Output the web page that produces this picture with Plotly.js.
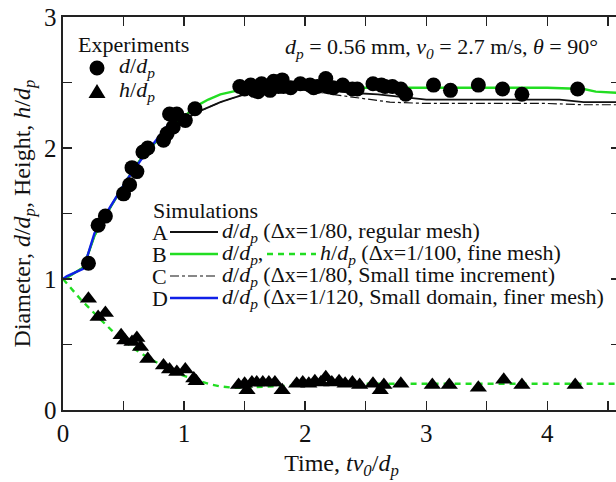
<!DOCTYPE html>
<html>
<head>
<meta charset="utf-8">
<script src="https://cdn.plot.ly/plotly-3.0.1.min.js"></script>
<style>
html,body{margin:0;padding:0;overflow:hidden;background:#fff;width:616px;height:482px;}
#chart{width:640px;height:482px;}
</style>
</head>
<body>
<div id="chart"></div>
<script>
// ---------- data ----------
// Experiments: diameter d/dp
const expDT = [0.21,0.29,0.35,0.50,0.55,0.57,0.61,0.66,0.70,0.83,0.86,0.91,0.88,0.94,1.01,1.09,
  1.46,1.50,1.55,1.58,1.61,1.64,1.68,1.71,1.74,1.78,1.81,1.82,1.88,1.96,2.04,2.07,2.10,2.17,2.18,2.23,
  2.31,2.39,2.43,2.56,2.63,2.66,2.72,2.79,2.83,3.06,3.20,3.43,3.63,3.79,4.25];
const expD = [1.12,1.41,1.48,1.65,1.72,1.85,1.82,1.97,2.00,2.06,2.11,2.16,2.26,2.26,2.21,2.30,
  2.47,2.45,2.48,2.44,2.43,2.49,2.46,2.44,2.51,2.47,2.52,2.47,2.46,2.49,2.48,2.46,2.47,2.53,2.47,2.46,
  2.48,2.45,2.45,2.49,2.48,2.47,2.47,2.45,2.41,2.48,2.44,2.48,2.45,2.41,2.45];
// Experiments: height h/dp
const expHT = [0.21,0.29,0.35,0.48,0.51,0.57,0.61,0.64,0.70,0.83,0.88,0.94,1.01,1.08,1.10,
  1.45,1.50,1.52,1.56,1.60,1.65,1.70,1.75,1.81,1.93,1.98,2.03,2.08,2.13,2.17,2.22,2.28,2.33,2.39,2.45,
  2.56,2.62,2.65,2.79,3.05,3.19,3.43,3.64,3.79,4.23];
const expH = [0.85,0.71,0.74,0.57,0.53,0.52,0.55,0.48,0.39,0.34,0.31,0.29,0.31,0.24,0.22,
  0.19,0.20,0.15,0.21,0.21,0.21,0.21,0.21,0.15,0.20,0.21,0.20,0.22,0.21,0.25,0.21,0.22,0.20,0.21,0.19,
  0.20,0.15,0.19,0.20,0.19,0.19,0.17,0.23,0.19,0.19];

// Simulation A: d/dp, dx=1/80 regular mesh
const simAT = [0,0.05,0.17,0.26,0.40,0.53,0.66,0.80,0.90,1.00,1.10,1.20,1.30,1.40,1.50,1.60,1.70,1.80,1.90,2.00,2.20,2.40,2.60,2.80,3.00,3.30,3.60,3.90,4.10,4.30,4.60];
const simA  = [1.00,1.02,1.09,1.33,1.56,1.76,1.94,2.08,2.15,2.21,2.27,2.31,2.35,2.38,2.41,2.43,2.44,2.45,2.45,2.45,2.44,2.42,2.41,2.39,2.37,2.37,2.37,2.37,2.37,2.35,2.35];
// Simulation B: d/dp and h/dp, dx=1/100 fine mesh
const simBT = [0,0.05,0.17,0.26,0.40,0.53,0.66,0.80,0.90,1.00,1.10,1.20,1.30,1.40,1.50,1.60,1.80,2.00,2.40,2.80,3.20,3.60,4.00,4.30,4.40,4.60];
const simB  = [1.00,1.02,1.09,1.33,1.56,1.76,1.94,2.08,2.16,2.24,2.32,2.37,2.41,2.43,2.45,2.46,2.47,2.47,2.46,2.46,2.46,2.46,2.46,2.45,2.43,2.42];
const simBhT = [0,0.15,0.30,0.40,0.50,0.60,0.70,0.80,0.90,1.00,1.10,1.20,1.30,1.40,1.50,1.70,1.90,2.20,2.60,3.00,3.50,4.00,4.60];
const simBh  = [1.00,0.84,0.70,0.61,0.53,0.46,0.40,0.35,0.30,0.26,0.23,0.20,0.18,0.17,0.17,0.18,0.19,0.20,0.20,0.20,0.20,0.20,0.20];
// Simulation C: d/dp, dx=1/80 small time increment
const simCT = [0,0.05,0.17,0.26,0.40,0.53,0.66,0.80,0.90,1.00,1.10,1.20,1.30,1.40,1.50,1.60,1.70,1.80,1.90,2.00,2.30,2.70,3.00,3.50,4.00,4.30,4.60];
const simC  = [1.00,1.02,1.09,1.33,1.56,1.76,1.94,2.08,2.15,2.21,2.27,2.31,2.35,2.38,2.41,2.43,2.44,2.45,2.45,2.44,2.40,2.35,2.34,2.34,2.34,2.33,2.33];
// Simulation D: d/dp, dx=1/120 small domain finer mesh
const simDT = [0,0.03,0.17,0.26,0.39,0.53,0.66,0.78,0.87];
const simD  = [1.00,1.02,1.08,1.35,1.55,1.76,1.93,2.07,2.18];

// tick labels
const xTickVals = [0,0.5,1,1.5,2,2.5,3,3.5,4,4.5];
const xTickText = ['0','','1','','2','','3','','4',''];
const yTickVals = [0,0.5,1,1.5,2,2.5,3];
const yTickText = ['0','','1','','2','','3'];

// ---------- layout helpers (pixel -> paper) ----------
const L = 63, T = 17, PW = 557, PH = 393;
const px = x => (x - L) / PW;
const py = y => (T + PH - y) / PH;

const GREEN = '#22dd22', BLUE = '#1020e8', BLACK = '#111111';
const FONT = 'Liberation Serif';

const traces = [
  {x: simCT, y: simC, mode: 'lines', line: {color: BLACK, width: 1.2, dash: 'dashdot'}, name: 'C'},
  {x: simAT, y: simA, mode: 'lines', line: {color: BLACK, width: 1.8}, name: 'A'},
  {x: simBT, y: simB, mode: 'lines', line: {color: GREEN, width: 2.4}, name: 'B d'},
  {x: simBhT, y: simBh, mode: 'lines', line: {color: GREEN, width: 2.4, dash: '6px,5px'}, name: 'B h'},
  {x: simDT, y: simD, mode: 'lines', line: {color: BLUE, width: 2.4}, name: 'D'},
  {x: expDT, y: expD, mode: 'markers', marker: {symbol: 'circle', size: 15, color: '#000'}, name: 'exp d'},
  {x: expHT, y: expH, mode: 'markers', marker: {symbol: 'triangle-up', size: 15, color: '#000'}, name: 'exp h'}
];

const dp = '<i>d</i>/<i>d<sub>p</sub></i>';
const hp = '<i>h</i>/<i>d<sub>p</sub></i>';
function ann(x, y, text, size) {
  return {xref: 'paper', yref: 'paper', x: px(x), y: py(y), xanchor: 'left', yanchor: 'middle',
    text: text, showarrow: false, font: {family: FONT, size: size || 22, color: '#111'}};
}
const annotations = [
  ann(76, 45, 'Experiments'),
  ann(117, 67, dp),
  ann(117, 91, hp),
  ann(283, 48, '<i>d<sub>p</sub></i> = 0.56 mm, <i>v<sub>0</sub></i> = 2.7 m/s, <i>θ</i> = 90°'),
  ann(151, 210, 'Simulations'),
  ann(150, 232, 'A'), ann(220, 232, dp + ' (Δx=1/80, regular mesh)'),
  ann(150, 254, 'B'), ann(220, 254, dp + ','), ann(318, 254, hp + ' (Δx=1/100, fine mesh)'),
  ann(150, 276, 'C'), ann(220, 276, dp + ' (Δx=1/80, Small time increment)'),
  ann(150, 298, 'D'), ann(220, 298, dp + ' (Δx=1/120, Small domain, finer mesh)')
];
function seg(x0, x1, y, color, width, dash) {
  return {type: 'line', xref: 'paper', yref: 'paper', x0: px(x0), x1: px(x1), y0: py(y), y1: py(y),
    line: {color: color, width: width, dash: dash || 'solid'}};
}
const r = 7.5;
const shapes = [
  {type: 'circle', xref: 'paper', yref: 'paper', x0: px(97 - r), x1: px(97 + r), y0: py(68 + r), y1: py(68 - r),
    fillcolor: '#000', line: {color: '#000', width: 0}},
  {type: 'path', xref: 'paper', yref: 'paper',
    path: 'M ' + px(88.5) + ' ' + py(98) + ' L ' + px(105.5) + ' ' + py(98) + ' L ' + px(97) + ' ' + py(84) + ' Z',
    fillcolor: '#000', line: {color: '#000', width: 0}},
  seg(170, 218, 232, BLACK, 1.8),
  seg(170, 218, 254, GREEN, 2.4),
  seg(267, 316, 254, GREEN, 2.4, '6px,5px'),
  seg(170, 218, 276, BLACK, 1.2, 'dashdot'),
  seg(170, 218, 298, BLUE, 2.4)
];

const axisCommon = {
  showline: true, linecolor: '#222', linewidth: 1.6, mirror: 'ticks',
  ticks: 'inside', ticklen: 9, tickwidth: 1.4, tickcolor: '#222',
  showgrid: false, zeroline: false,
  tickfont: {family: FONT, size: 25, color: '#111'}
};

const layout = {
  width: 640, height: 482,
  margin: {l: L, r: 640 - L - PW, t: T, b: 482 - T - PH},
  paper_bgcolor: '#fff', plot_bgcolor: '#fff',
  showlegend: false,
  xaxis: Object.assign({}, axisCommon, {
    range: [0, 4.6], tickmode: 'array', tickvals: xTickVals, ticktext: xTickText,
    title: {text: 'Time, <i>tv<sub>0</sub></i>/<i>d<sub>p</sub></i>', font: {family: FONT, size: 24, color: '#111'}, standoff: 8}
  }),
  yaxis: Object.assign({}, axisCommon, {
    range: [0, 3], tickmode: 'array', tickvals: yTickVals, ticktext: yTickText,
    title: {text: 'Diameter, ' + dp + ', Height, ' + hp, font: {family: FONT, size: 24, color: '#111'}, standoff: 6}
  }),
  annotations: annotations,
  shapes: shapes
};

Plotly.newPlot('chart', traces, layout, {displayModeBar: false, staticPlot: true});
</script>
</body>
</html>
